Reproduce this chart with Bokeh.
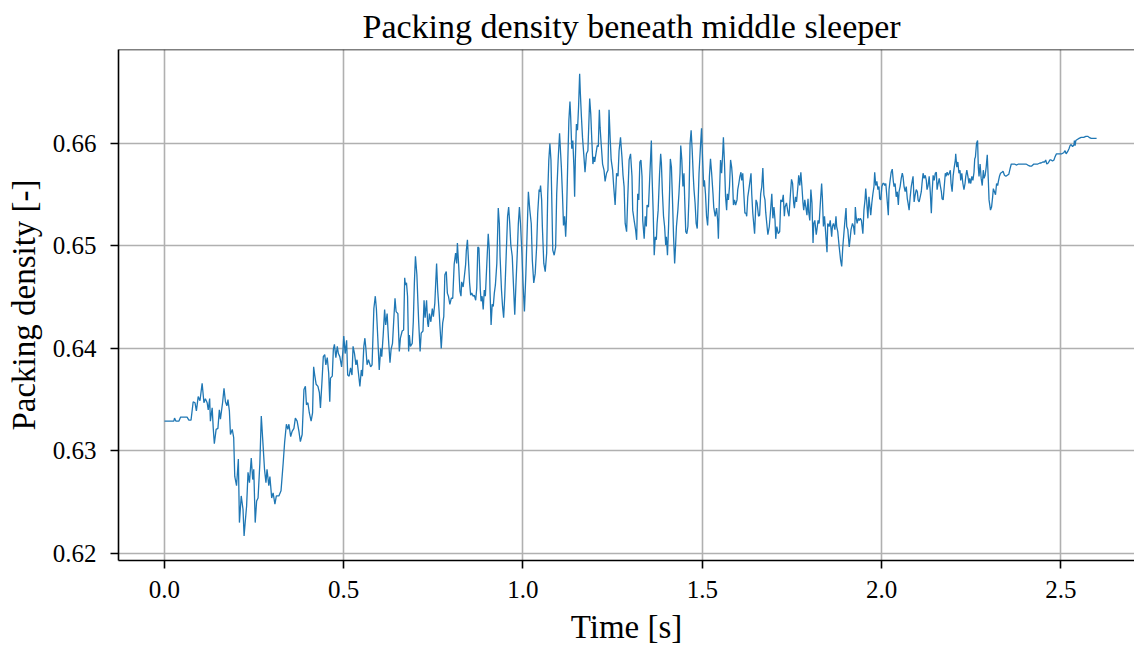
from bokeh.plotting import figure
from bokeh.models import Range1d, FixedTicker, ColumnDataSource, Span
from bokeh.embed import file_html
from bokeh.resources import INLINE

title_text = "Packing density beneath middle sleeper"
x_label = "Time [s]"
y_label = "Packing density [-]"

x_ticks = [0.0, 0.5, 1.0, 1.5, 2.0, 2.5]
x_tick_labels = ["0.0", "0.5", "1.0", "1.5", "2.0", "2.5"]
y_ticks = [0.62, 0.63, 0.64, 0.65, 0.66]
y_tick_labels = ["0.62", "0.63", "0.64", "0.65", "0.66"]

# (time [s], packing density [-]), segment by segment
seg_a = [(0.000,0.6329),(0.026,0.6329),(0.028,0.6332),(0.032,0.6329),(0.040,0.6329),(0.045,0.6333),(0.063,0.6333),(0.068,0.6330),(0.074,0.6330),(0.080,0.6348),(0.085,0.6347),(0.089,0.6339),(0.094,0.6353),(0.099,0.6349),(0.105,0.6366),(0.110,0.6347),(0.114,0.6351),(0.119,0.6347),(0.122,0.6340),(0.126,0.6351),(0.128,0.6329),(0.133,0.6342),(0.136,0.6322),(0.139,0.6307),(0.144,0.6321),(0.149,0.6322),(0.153,0.6340),(0.156,0.6331),(0.162,0.6347),(0.166,0.6361),(0.170,0.6348),(0.174,0.6344),(0.177,0.6350),(0.181,0.6339),(0.184,0.6316),(0.189,0.6321),(0.193,0.6313),(0.196,0.6275),(0.201,0.6266),(0.206,0.6292),(0.209,0.6230),(0.214,0.6256),(0.219,0.6243),(0.222,0.6217),(0.225,0.6230),(0.229,0.6246),(0.233,0.6279),(0.237,0.6269),(0.242,0.6293),(0.246,0.6272),(0.249,0.6282),(0.253,0.6230),(0.257,0.6251),(0.261,0.6254),(0.266,0.6288),(0.270,0.6334),(0.274,0.6311),(0.279,0.6282),(0.283,0.6269),(0.286,0.6282),(0.291,0.6266),(0.294,0.6275),(0.299,0.6254),(0.303,0.6259),(0.308,0.6248),(0.312,0.6256),(0.319,0.6256),(0.325,0.6261)]
seg_b = [(0.331,0.6288),(0.335,0.6308),(0.340,0.6326),(0.344,0.6321),(0.347,0.6326),(0.352,0.6314),(0.356,0.6319),(0.361,0.6322),(0.365,0.6332),(0.370,0.6329),(0.375,0.6319),(0.379,0.6309),(0.384,0.6316),(0.389,0.6360),(0.393,0.6363),(0.396,0.6345),(0.400,0.6347),(0.404,0.6337),(0.409,0.6329),(0.413,0.6337),(0.416,0.6382),(0.419,0.6374),(0.423,0.6365),(0.428,0.6363),(0.432,0.6357),(0.435,0.6342),(0.439,0.6366),(0.443,0.6392),(0.447,0.6394),(0.450,0.6384),(0.454,0.6391),(0.458,0.6376),(0.461,0.6348),(0.463,0.6371),(0.468,0.6373),(0.471,0.6399),(0.474,0.6404),(0.478,0.6391),(0.482,0.6402),(0.485,0.6395),(0.489,0.6392),(0.494,0.6382),(0.498,0.6399),(0.500,0.6412),(0.504,0.6395),(0.508,0.6408),(0.511,0.6374),(0.515,0.6373),(0.519,0.6381),(0.523,0.6374),(0.526,0.6402),(0.530,0.6395),(0.534,0.6384),(0.537,0.6389),(0.541,0.6376),(0.545,0.6363),(0.549,0.6379),(0.552,0.6373),(0.556,0.6402),(0.559,0.6410),(0.562,0.6399),(0.565,0.6384),(0.569,0.6389),(0.575,0.6382),(0.579,0.6384),(0.584,0.6439),(0.588,0.6451),(0.591,0.6439),(0.595,0.6410),(0.599,0.6379),(0.603,0.6400),(0.606,0.6392),(0.610,0.6413),(0.614,0.6438),(0.617,0.6423),(0.621,0.6434),(0.625,0.6408),(0.629,0.6386),(0.632,0.6399),(0.636,0.6405),(0.640,0.6431),(0.643,0.6449),(0.646,0.6436),(0.651,0.6434),(0.655,0.6397)]
seg_c = [(0.658,0.6410),(0.663,0.6417),(0.667,0.6418),(0.670,0.6469),(0.672,0.6462),(0.675,0.6464),(0.678,0.6451),(0.681,0.6397),(0.683,0.6413),(0.686,0.6402),(0.691,0.6405),(0.694,0.6426),(0.697,0.6464),(0.700,0.6490),(0.704,0.6472),(0.707,0.6444),(0.709,0.6426),(0.713,0.6397),(0.716,0.6415),(0.721,0.6417),(0.724,0.6447),(0.727,0.6430),(0.731,0.6447),(0.734,0.6425),(0.736,0.6421),(0.739,0.6434),(0.743,0.6426),(0.747,0.6439),(0.750,0.6431),(0.754,0.6444),(0.756,0.6460),(0.759,0.6483),(0.762,0.6457),(0.766,0.6436),(0.769,0.6418),(0.772,0.6400),(0.776,0.6425),(0.779,0.6431),(0.782,0.6472),(0.786,0.6475),(0.789,0.6454),(0.792,0.6451),(0.796,0.6443),(0.800,0.6449),(0.804,0.6449),(0.808,0.6482),(0.812,0.6493),(0.815,0.6483),(0.817,0.6503),(0.821,0.6478),(0.824,0.6456),(0.827,0.6451),(0.829,0.6465),(0.833,0.6460),(0.836,0.6469),(0.840,0.6482),(0.842,0.6496),(0.845,0.6506),(0.848,0.6485),(0.851,0.6464),(0.854,0.6452),(0.857,0.6454),(0.861,0.6451),(0.864,0.6452),(0.868,0.6447),(0.871,0.6459),(0.874,0.6499),(0.877,0.6498),(0.881,0.6457),(0.883,0.6446),(0.886,0.6451),(0.889,0.6438),(0.892,0.6457),(0.895,0.6451),(0.899,0.6482),(0.903,0.6512),(0.906,0.6496),(0.908,0.6456),(0.911,0.6423),(0.914,0.6443),(0.917,0.6441),(0.920,0.6454),(0.923,0.6462),(0.927,0.6483),(0.931,0.6537),(0.934,0.6522),(0.936,0.6490),(0.940,0.6457),(0.943,0.6441),(0.946,0.6430),(0.949,0.6451),(0.953,0.6490),(0.957,0.6529),(0.960,0.6538),(0.963,0.6522),(0.966,0.6501),(0.970,0.6490),(0.974,0.6457),(0.977,0.6433)]
seg_d = [(0.980,0.6460),(0.984,0.6493),(0.987,0.6522),(0.990,0.6538),(0.993,0.6522),(0.997,0.6493),(1.000,0.6464),(1.004,0.6436),(1.008,0.6473),(1.012,0.6519),(1.015,0.6553),(1.019,0.6535),(1.023,0.6522),(1.026,0.6486),(1.030,0.6464),(1.034,0.6473),(1.038,0.6499),(1.041,0.6532),(1.045,0.6555),(1.047,0.6553),(1.049,0.6559),(1.052,0.6545),(1.054,0.6519),(1.058,0.6483),(1.062,0.6475),(1.066,0.6493),(1.069,0.6551),(1.072,0.6584),(1.075,0.6600),(1.078,0.6584),(1.080,0.6551),(1.083,0.6496),(1.087,0.6491),(1.091,0.6499),(1.094,0.6551),(1.098,0.6584),(1.102,0.6610),(1.105,0.6590),(1.107,0.6577),(1.110,0.6551),(1.113,0.6520),(1.116,0.6529),(1.119,0.6509),(1.121,0.6525),(1.125,0.6584),(1.128,0.6623),(1.131,0.6641),(1.133,0.6626),(1.136,0.6595),(1.139,0.6603),(1.142,0.6577),(1.144,0.6548),(1.146,0.6584),(1.149,0.6619),(1.152,0.6613),(1.155,0.6636),(1.158,0.6668),(1.160,0.6649),(1.163,0.6626),(1.166,0.6606),(1.170,0.6587),(1.173,0.6572),(1.177,0.6590),(1.181,0.6593),(1.184,0.6623),(1.186,0.6644),(1.189,0.6629),(1.192,0.6603),(1.195,0.6580),(1.198,0.6587),(1.200,0.6582),(1.203,0.6589),(1.207,0.6598),(1.210,0.6597),(1.213,0.6633),(1.215,0.6616),(1.218,0.6600),(1.222,0.6580),(1.226,0.6574),(1.229,0.6563),(1.233,0.6571),(1.237,0.6574),(1.240,0.6633),(1.243,0.6606),(1.246,0.6584),(1.250,0.6574),(1.253,0.6558),(1.257,0.6540),(1.261,0.6571),(1.265,0.6568),(1.268,0.6593),(1.272,0.6606),(1.276,0.6587),(1.279,0.6569),(1.282,0.6558),(1.285,0.6522),(1.289,0.6514),(1.292,0.6545),(1.296,0.6584),(1.300,0.6590)]
seg_e = [(1.304,0.6568),(1.306,0.6535),(1.310,0.6525),(1.314,0.6516),(1.317,0.6506),(1.320,0.6551),(1.323,0.6545),(1.326,0.6582),(1.329,0.6584),(1.332,0.6568),(1.334,0.6525),(1.338,0.6507),(1.341,0.6529),(1.344,0.6519),(1.346,0.6540),(1.350,0.6538),(1.354,0.6571),(1.358,0.6603),(1.360,0.6568),(1.363,0.6535),(1.366,0.6491),(1.369,0.6509),(1.372,0.6506),(1.374,0.6522),(1.377,0.6535),(1.381,0.6571),(1.384,0.6590),(1.386,0.6581),(1.389,0.6551),(1.392,0.6529),(1.395,0.6519),(1.398,0.6501),(1.400,0.6509),(1.403,0.6491),(1.406,0.6519),(1.409,0.6555),(1.411,0.6585),(1.414,0.6577),(1.417,0.6545),(1.420,0.6509),(1.423,0.6483),(1.425,0.6496),(1.428,0.6519),(1.432,0.6535),(1.435,0.6551),(1.438,0.6571),(1.440,0.6598),(1.443,0.6584),(1.446,0.6558),(1.449,0.6571),(1.451,0.6546),(1.454,0.6514),(1.457,0.6512),(1.460,0.6519),(1.463,0.6548),(1.466,0.6600),(1.469,0.6613),(1.472,0.6593),(1.475,0.6568),(1.477,0.6555),(1.480,0.6542),(1.483,0.6522),(1.486,0.6517),(1.489,0.6548),(1.491,0.6571),(1.495,0.6597),(1.498,0.6615),(1.501,0.6584),(1.504,0.6558),(1.506,0.6564),(1.509,0.6551),(1.512,0.6529),(1.515,0.6520),(1.517,0.6535),(1.520,0.6568),(1.523,0.6585),(1.526,0.6572),(1.530,0.6551),(1.532,0.6538),(1.536,0.6529),(1.540,0.6537),(1.543,0.6525),(1.545,0.6507),(1.548,0.6550),(1.551,0.6584),(1.554,0.6571),(1.557,0.6590),(1.559,0.6606),(1.562,0.6581),(1.565,0.6548),(1.568,0.6535),(1.570,0.6551),(1.573,0.6545),(1.576,0.6558),(1.579,0.6584),(1.582,0.6577),(1.584,0.6568),(1.587,0.6540),(1.590,0.6545),(1.593,0.6540),(1.597,0.6545),(1.599,0.6555),(1.602,0.6561),(1.605,0.6568),(1.608,0.6572),(1.610,0.6564),(1.613,0.6571),(1.616,0.6551),(1.619,0.6532)]
seg_f = [(1.622,0.6532),(1.624,0.6529),(1.627,0.6548),(1.630,0.6555),(1.633,0.6563),(1.636,0.6571),(1.638,0.6551),(1.641,0.6532),(1.646,0.6512),(1.650,0.6545),(1.653,0.6542),(1.657,0.6529),(1.660,0.6530),(1.663,0.6551),(1.666,0.6558),(1.669,0.6576),(1.672,0.6550),(1.675,0.6545),(1.677,0.6533),(1.680,0.6522),(1.683,0.6511),(1.687,0.6519),(1.690,0.6532),(1.694,0.6551),(1.697,0.6527),(1.700,0.6538),(1.703,0.6525),(1.705,0.6507),(1.708,0.6519),(1.712,0.6512),(1.716,0.6514),(1.719,0.6545),(1.723,0.6543),(1.726,0.6550),(1.729,0.6529),(1.731,0.6538),(1.735,0.6542),(1.739,0.6533),(1.742,0.6529),(1.746,0.6551),(1.749,0.6565),(1.752,0.6561),(1.755,0.6542),(1.757,0.6537),(1.760,0.6548),(1.763,0.6543),(1.767,0.6559),(1.769,0.6569),(1.772,0.6559),(1.775,0.6572),(1.778,0.6558),(1.781,0.6542),(1.783,0.6535),(1.786,0.6545),(1.789,0.6538),(1.792,0.6530),(1.795,0.6546),(1.797,0.6533),(1.800,0.6525),(1.803,0.6555),(1.806,0.6542),(1.809,0.6503),(1.811,0.6522),(1.814,0.6525),(1.818,0.6511),(1.821,0.6519),(1.823,0.6525),(1.826,0.6522),(1.830,0.6545),(1.833,0.6561),(1.835,0.6548),(1.838,0.6519),(1.841,0.6529),(1.844,0.6514),(1.848,0.6494),(1.850,0.6522),(1.854,0.6519),(1.857,0.6525),(1.861,0.6509),(1.863,0.6519),(1.866,0.6522),(1.870,0.6516),(1.873,0.6529),(1.875,0.6519),(1.878,0.6514),(1.882,0.6499),(1.886,0.6486),(1.889,0.6480),(1.892,0.6499),(1.895,0.6512),(1.898,0.6525),(1.901,0.6537),(1.903,0.6519),(1.906,0.6516),(1.910,0.6499),(1.913,0.6509),(1.915,0.6516),(1.919,0.6522),(1.922,0.6519),(1.925,0.6511),(1.927,0.6538),(1.929,0.6529),(1.932,0.6522),(1.935,0.6527),(1.938,0.6525),(1.941,0.6527)]
seg_g = [(1.944,0.6525),(1.948,0.6512),(1.951,0.6535),(1.954,0.6545),(1.956,0.6556),(1.959,0.6542),(1.962,0.6527),(1.965,0.6548),(1.968,0.6537),(1.970,0.6530),(1.973,0.6542),(1.976,0.6551),(1.979,0.6558),(1.981,0.6572),(1.984,0.6559),(1.987,0.6563),(1.990,0.6555),(1.993,0.6558),(1.995,0.6546),(1.998,0.6545),(2.001,0.6558),(2.004,0.6561),(2.007,0.6561),(2.009,0.6559),(2.012,0.6561),(2.015,0.6548),(2.019,0.6530),(2.021,0.6555),(2.024,0.6564),(2.027,0.6572),(2.030,0.6575),(2.033,0.6563),(2.035,0.6558),(2.038,0.6561),(2.041,0.6548),(2.044,0.6553),(2.047,0.6540),(2.049,0.6553),(2.052,0.6558),(2.055,0.6566),(2.058,0.6571),(2.060,0.6568),(2.063,0.6558),(2.066,0.6553),(2.069,0.6558),(2.072,0.6546),(2.074,0.6542),(2.077,0.6535),(2.080,0.6548),(2.083,0.6558),(2.086,0.6564),(2.088,0.6568),(2.091,0.6543),(2.094,0.6550),(2.097,0.6555),(2.100,0.6553),(2.102,0.6545),(2.105,0.6543),(2.108,0.6548),(2.111,0.6553),(2.113,0.6561),(2.116,0.6571),(2.119,0.6566),(2.122,0.6569),(2.125,0.6564),(2.127,0.6555),(2.130,0.6559),(2.133,0.6568),(2.136,0.6553),(2.139,0.6532),(2.141,0.6551),(2.144,0.6569),(2.147,0.6564),(2.150,0.6571),(2.153,0.6572),(2.155,0.6555),(2.158,0.6561),(2.161,0.6566),(2.164,0.6559),(2.167,0.6553),(2.169,0.6546),(2.172,0.6545),(2.175,0.6558),(2.178,0.6571),(2.180,0.6568),(2.183,0.6572),(2.186,0.6569),(2.189,0.6571),(2.192,0.6574),(2.194,0.6561),(2.197,0.6553),(2.200,0.6569),(2.203,0.6577),(2.206,0.6584),(2.207,0.6590),(2.210,0.6577),(2.213,0.6582),(2.216,0.6571),(2.219,0.6574),(2.221,0.6564),(2.224,0.6571),(2.227,0.6561),(2.230,0.6555),(2.233,0.6561),(2.235,0.6568),(2.238,0.6574),(2.241,0.6568),(2.244,0.6561),(2.246,0.6566),(2.249,0.6561),(2.252,0.6568),(2.255,0.6564),(2.258,0.6572),(2.260,0.6585)]
seg_h = [(2.262,0.6587),(2.265,0.6600),(2.268,0.6603),(2.270,0.6577),(2.272,0.6568),(2.275,0.6580),(2.278,0.6566),(2.281,0.6559),(2.284,0.6574),(2.286,0.6566),(2.289,0.6569),(2.292,0.6577),(2.295,0.6589),(2.298,0.6564),(2.300,0.6545),(2.304,0.6535),(2.307,0.6538),(2.310,0.6548),(2.312,0.6556),(2.315,0.6553),(2.318,0.6550),(2.321,0.6561),(2.324,0.6559),(2.326,0.6563),(2.329,0.6568),(2.332,0.6571),(2.336,0.6572),(2.339,0.6573),(2.343,0.6569),(2.347,0.6568),(2.351,0.6569),(2.355,0.6570),(2.359,0.6576),(2.362,0.6580),(2.365,0.6580),(2.371,0.6580),(2.377,0.6579),(2.382,0.6580),(2.388,0.6580),(2.393,0.6580),(2.397,0.6580),(2.403,0.6580),(2.408,0.6579),(2.414,0.6578),(2.419,0.6578),(2.425,0.6580),(2.431,0.6580),(2.436,0.6580),(2.442,0.6581),(2.445,0.6581),(2.450,0.6582),(2.455,0.6582),(2.458,0.6584),(2.461,0.6580),(2.465,0.6581),(2.470,0.6584),(2.473,0.6584),(2.477,0.6583),(2.481,0.6584),(2.484,0.6587),(2.488,0.6590),(2.493,0.6590),(2.497,0.6590),(2.503,0.6590),(2.508,0.6591),(2.512,0.6593),(2.515,0.6590),(2.519,0.6592),(2.523,0.6595),(2.526,0.6598),(2.529,0.6599),(2.533,0.6597),(2.537,0.6599),(2.538,0.6603),(2.540,0.6598),(2.542,0.6603),(2.546,0.6604),(2.551,0.6605),(2.557,0.6606),(2.564,0.6606),(2.570,0.6607),(2.576,0.6607),(2.579,0.6606),(2.585,0.6605),(2.592,0.6605),(2.600,0.6605)]

segments = [seg_a, seg_b, seg_c, seg_d, seg_e, seg_f, seg_g, seg_h]
time_s = [pt[0] for seg in segments for pt in seg]
density = [pt[1] for seg in segments for pt in seg]
source = ColumnDataSource(data=dict(t=time_s, rho=density))

FONT = "Liberation Serif"

X_START, X_END = -0.1283, 2.7057
Y_START, Y_END = 0.6193, 0.66918

p = figure(width=1134, height=647,
           x_range=Range1d(X_START, X_END), y_range=Range1d(Y_START, Y_END),
           output_backend="svg", toolbar_location=None,
           min_border_left=118, min_border_right=0, min_border_top=49, min_border_bottom=80,
           title=title_text)
p.background_fill_color = "white"
p.border_fill_color = "white"
p.outline_line_color = None

p.title.text_font = FONT
p.title.text_font_size = "34px"
p.title.text_font_style = "normal"
p.title.text_color = "black"
p.title.align = "left"
p.title.offset = 244
p.title.standoff = 10

p.line(x="t", y="rho", source=source, line_color="#1f77b4", line_width=1.3)

p.xaxis.ticker = FixedTicker(ticks=x_ticks)
p.xaxis.major_label_overrides = {t: lab for t, lab in zip(x_ticks, x_tick_labels)}
p.yaxis.ticker = FixedTicker(ticks=y_ticks)
p.yaxis.major_label_overrides = {t: lab for t, lab in zip(y_ticks, y_tick_labels)}
p.xaxis.axis_label = x_label
p.yaxis.axis_label = y_label

for ax in (p.xaxis, p.yaxis):
    ax.axis_line_color = "black"
    ax.axis_line_width = 1.6
    ax.major_tick_line_color = "black"
    ax.major_tick_line_width = 1.6
    ax.major_tick_out = 8
    ax.major_tick_in = 0
    ax.minor_tick_line_color = None
    ax.major_label_text_font = FONT
    ax.major_label_text_font_size = "25px"
    ax.major_label_text_color = "black"
    ax.axis_label_text_font = FONT
    ax.axis_label_text_font_size = "33px"
    ax.axis_label_text_font_style = "normal"
    ax.axis_label_text_color = "black"
p.xaxis.major_label_standoff = 12
p.yaxis.major_label_standoff = 14
p.xaxis.axis_label_standoff = 8
p.yaxis.axis_label_standoff = 8

for g in (p.xgrid, p.ygrid):
    g.grid_line_color = "#b0b0b0"
    g.grid_line_width = 1.6

top_spine = Span(location=Y_END, dimension="width", line_color="black", line_width=1.6)
p.add_layout(top_spine)

open("out.html", "w").write(file_html(p, INLINE))
